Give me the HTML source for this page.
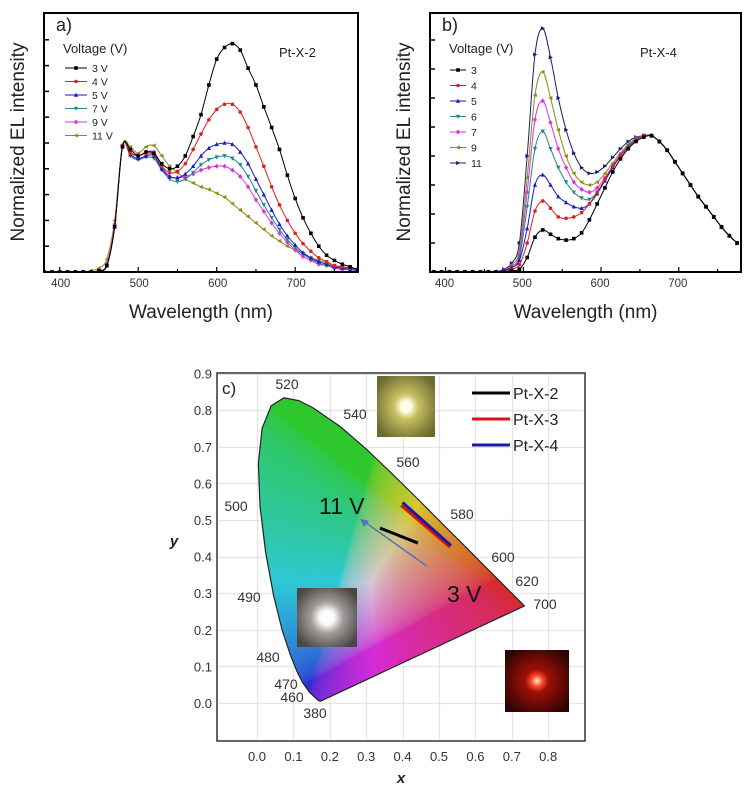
<!DOCTYPE html>
<html><head><meta charset="utf-8">
<style>
html,body{margin:0;padding:0;background:#fff;width:749px;height:791px;overflow:hidden}
#wrap{position:relative;width:749px;height:791px}
#cie{position:absolute;left:0;top:0}
#svg{position:absolute;left:0;top:0}
text{font-family:"Liberation Sans",sans-serif}
</style></head>
<body>
<div id="wrap">
<canvas id="cie" width="749" height="791"></canvas>
<svg id="svg" width="749" height="791" xmlns="http://www.w3.org/2000/svg">
<defs>
<radialGradient id="gy" cx="50%" cy="50%" r="60%"><stop offset="0" stop-color="#fff"/><stop offset="0.15" stop-color="#fffbe0"/><stop offset="0.35" stop-color="#c8c060"/><stop offset="1" stop-color="#6c6a30"/></radialGradient>
<radialGradient id="gg" cx="50%" cy="50%" r="60%"><stop offset="0" stop-color="#fff"/><stop offset="0.2" stop-color="#fafafa"/><stop offset="0.45" stop-color="#a09c9a"/><stop offset="1" stop-color="#4a4644"/></radialGradient>
<radialGradient id="gr" cx="50%" cy="50%" r="60%"><stop offset="0" stop-color="#fff0e0"/><stop offset="0.14" stop-color="#ff5030"/><stop offset="0.3" stop-color="#a01008"/><stop offset="1" stop-color="#300404"/></radialGradient>
</defs>
<g id="pa"></g>
<g id="pb"></g>
<g id="pc"></g>
</svg>
</div>
<script>
// ---- Panel a data ----
const waveA = [380,390,400,410,420,430,440,450,460,470,480,490,500,510,520,530,540,550,560,570,580,590,600,610,620,630,640,650,660,670,680,690,700,710,720,730,740,750,760,770,780];
const a3V  = [0,0,0,0,0,0,0,0.01,0.05,0.35,0.97,0.95,0.9,0.93,0.92,0.84,0.8,0.82,0.9,1.05,1.22,1.45,1.65,1.74,1.77,1.72,1.58,1.45,1.28,1.12,0.95,0.75,0.57,0.42,0.3,0.2,0.13,0.09,0.06,0.04,0.02];
const a4V  = [0,0,0,0,0,0,0,0.01,0.05,0.35,0.98,0.92,0.9,0.92,0.91,0.82,0.77,0.78,0.84,0.95,1.07,1.18,1.26,1.3,1.3,1.24,1.12,0.97,0.82,0.66,0.52,0.4,0.3,0.22,0.16,0.11,0.08,0.05,0.04,0.03,0.02];
const a5V  = [0,0,0,0,0,0,0,0.01,0.05,0.35,0.98,0.91,0.88,0.9,0.9,0.8,0.74,0.73,0.76,0.82,0.9,0.96,0.99,1.0,0.99,0.93,0.84,0.72,0.6,0.48,0.37,0.28,0.21,0.15,0.11,0.08,0.06,0.04,0.03,0.02,0.01];
const a7V  = [0,0,0,0,0,0,0,0.01,0.05,0.35,0.98,0.9,0.87,0.89,0.88,0.79,0.72,0.7,0.72,0.77,0.83,0.87,0.89,0.9,0.88,0.83,0.74,0.63,0.52,0.42,0.33,0.25,0.19,0.14,0.1,0.07,0.05,0.04,0.03,0.02,0.01];
const a9V  = [0,0,0,0,0,0,0,0.01,0.06,0.37,0.98,0.93,0.9,0.93,0.93,0.82,0.74,0.73,0.74,0.76,0.79,0.81,0.82,0.82,0.79,0.74,0.66,0.56,0.47,0.38,0.3,0.23,0.17,0.12,0.09,0.06,0.05,0.03,0.02,0.02,0.01];
const a11V = [0,0,0,0,0,0,0.01,0.03,0.1,0.4,0.98,0.97,0.92,0.97,0.98,0.9,0.82,0.77,0.72,0.69,0.66,0.64,0.61,0.58,0.53,0.48,0.43,0.38,0.33,0.28,0.24,0.2,0.17,0.14,0.11,0.09,0.07,0.05,0.04,0.03,0.02];
const labelsA = ["3 V","4 V","5 V","7 V","9 V","11 V"];
// ---- Panel b data ----
const waveB = [385,395,405,415,425,435,445,455,465,475,485,495,505,515,525,535,545,555,565,575,585,595,605,615,625,635,645,655,665,675,685,695,705,715,725,735,745,755,765,775];
const b3  = [0,0,0,0,0,0,0,0,0,0,0.01,0.02,0.1,0.24,0.29,0.26,0.23,0.22,0.23,0.27,0.36,0.47,0.58,0.69,0.78,0.85,0.9,0.93,0.94,0.9,0.84,0.76,0.68,0.6,0.52,0.45,0.38,0.31,0.25,0.2];
const b4  = [0,0,0,0,0,0,0,0,0,0,0.02,0.05,0.2,0.42,0.49,0.44,0.38,0.37,0.38,0.41,0.47,0.55,0.64,0.73,0.8,0.86,0.91,0.94,0.94,0.9,0.84,0.76,0.68,0.6,0.52,0.45,0.38,0.31,0.25,0.2];
const b5  = [0,0,0,0,0,0,0,0,0,0.01,0.03,0.08,0.3,0.6,0.67,0.6,0.52,0.48,0.45,0.44,0.47,0.54,0.63,0.72,0.8,0.86,0.91,0.94,0.94,0.9,0.84,0.76,0.68,0.6,0.52,0.45,0.38,0.31,0.25,0.2];
const b6  = [0,0,0,0,0,0,0,0,0,0.01,0.03,0.1,0.45,0.85,0.97,0.85,0.72,0.62,0.55,0.51,0.5,0.55,0.63,0.72,0.8,0.87,0.92,0.94,0.94,0.9,0.84,0.76,0.68,0.6,0.52,0.45,0.38,0.31,0.25,0.2];
const b7  = [0,0,0,0,0,0,0,0,0,0.01,0.04,0.12,0.55,1.05,1.18,1.03,0.85,0.72,0.62,0.57,0.55,0.58,0.65,0.73,0.81,0.87,0.92,0.94,0.94,0.9,0.84,0.76,0.68,0.6,0.52,0.45,0.38,0.31,0.25,0.2];
const b9  = [0,0,0,0,0,0,0,0,0,0.01,0.05,0.15,0.65,1.22,1.38,1.2,0.98,0.8,0.68,0.62,0.6,0.62,0.68,0.75,0.82,0.88,0.92,0.94,0.94,0.9,0.84,0.76,0.68,0.6,0.52,0.45,0.38,0.31,0.25,0.2];
const b11 = [0,0,0,0,0,0,0,0,0,0.02,0.06,0.2,0.8,1.5,1.68,1.48,1.2,0.98,0.82,0.72,0.68,0.69,0.73,0.79,0.85,0.9,0.93,0.94,0.94,0.9,0.84,0.76,0.68,0.6,0.52,0.45,0.38,0.31,0.25,0.2];
const labelsB = ["3","4","5","6","7","9","11"];
const xTicks = [400,500,600,700];
// ---- Panel c data ----
const locusNm = [380,420,440,450,460,470,475,480,485,490,495,500,505,510,515,520,525,530,540,550,560,570,580,590,600,610,620,640,700];
const locusX = [0.1741,0.1714,0.1644,0.1566,0.1440,0.1241,0.1096,0.0913,0.0687,0.0454,0.0235,0.0082,0.0039,0.0139,0.0389,0.0743,0.1142,0.1547,0.2296,0.3016,0.3731,0.4441,0.5125,0.5752,0.6270,0.6658,0.6915,0.7190,0.7347];
const locusY = [0.0050,0.0051,0.0109,0.0177,0.0297,0.0578,0.0868,0.1327,0.2007,0.2950,0.4127,0.5384,0.6548,0.7502,0.8120,0.8338,0.8262,0.8059,0.7543,0.6923,0.6245,0.5547,0.4866,0.4242,0.3725,0.3340,0.3083,0.2809,0.2653];
const cieTickX = [0.0,0.1,0.2,0.3,0.4,0.5,0.6,0.7,0.8];
const cieTickY = [0.0,0.1,0.2,0.3,0.4,0.5,0.6,0.7,0.8,0.9];
const px2X = [0.338,0.442], px2Y = [0.478,0.437];
const px3X = [0.396,0.53], px3Y = [0.540,0.426];
const px4X = [0.400,0.533], px4Y = [0.548,0.430];
const arrowX = [0.467,0.283], arrowY = [0.374,0.503];
const legendC = ["Pt-X-2","Pt-X-3","Pt-X-4"];

const NS="http://www.w3.org/2000/svg";
function mk(tag,attrs,parent,txt){const e=document.createElementNS(NS,tag);for(const k in attrs)e.setAttribute(k,attrs[k]);if(txt!==undefined)e.textContent=txt;parent.appendChild(e);return e;}
function smooth(pts){let d="M"+pts[0][0].toFixed(2)+","+pts[0][1].toFixed(2);for(let i=0;i<pts.length-1;i++){const p0=pts[i-1]||pts[i],p1=pts[i],p2=pts[i+1],p3=pts[i+2]||p2;const c1=[p1[0]+(p2[0]-p0[0])/6,p1[1]+(p2[1]-p0[1])/6],c2=[p2[0]-(p3[0]-p1[0])/6,p2[1]-(p3[1]-p1[1])/6];d+="C"+c1.map(v=>v.toFixed(2))+" "+c2.map(v=>v.toFixed(2))+" "+p2[0].toFixed(2)+","+p2[1].toFixed(2);}return d;}
function marker(g,type,x,y,c,s){s=s||2.2;let e;
 if(type==="sq")e=mk("rect",{x:x-s,y:y-s,width:2*s,height:2*s,fill:c},g);
 else if(type==="ci")e=mk("circle",{cx:x,cy:y,r:s,fill:c},g);
 else if(type==="tu")e=mk("polygon",{points:`${x},${y-s*1.3} ${x-s*1.2},${y+s} ${x+s*1.2},${y+s}`,fill:c},g);
 else if(type==="td")e=mk("polygon",{points:`${x},${y+s*1.3} ${x-s*1.2},${y-s} ${x+s*1.2},${y-s}`,fill:c},g);
 else if(type==="di")e=mk("polygon",{points:`${x},${y-s*1.4} ${x+s*1.2},${y} ${x},${y+s*1.4} ${x-s*1.2},${y}`,fill:c},g);
 else if(type==="tl")e=mk("polygon",{points:`${x-s*1.3},${y} ${x+s},${y-s*1.2} ${x+s},${y+s*1.2}`,fill:c},g);
 else e=mk("polygon",{points:`${x+s*1.3},${y} ${x-s},${y-s*1.2} ${x-s},${y+s*1.2}`,fill:c},g);
 return e;}

function spectrumPanel(root,opt){
 const X=w=>opt.x0+(w-380)/400*(opt.x1-opt.x0);
 const Y=v=>opt.y1-v*opt.perUnit;
 const clip="clip"+opt.id;
 const cp=mk("clipPath",{id:clip},root);mk("rect",{x:opt.x0,y:opt.y0,width:opt.x1-opt.x0,height:opt.y1-opt.y0},cp);
 const sg=mk("g",{"clip-path":`url(#${clip})`},root);
 for(let s=opt.series.length-1;s>=0;s--){
  const ser=opt.series[s];
  const g=mk("g",{},sg);
  
  
  const pts=opt.wave.map((w,i)=>[X(w),Y(ser[i])]);
  mk("path",{d:smooth(pts),fill:"none",stroke:opt.colors[s],"stroke-width":1},g);
  pts.forEach(p=>marker(g,opt.marks[s],p[0],p[1],opt.colors[s],1.8));
 }
 const box=mk("rect",{x:opt.x0,y:opt.y0,width:opt.x1-opt.x0,height:opt.y1-opt.y0,fill:"none",stroke:"#000","stroke-width":2},root);
 
 for(let v=0.2;Y(v)>opt.y0+3;v+=0.2){mk("line",{x1:opt.x0,x2:opt.x0+5,y1:Y(v),y2:Y(v),stroke:"#000","stroke-width":1.5},root);}
 for(let w=400;w<780;w+=50){mk("line",{x1:X(w),x2:X(w),y1:opt.y1,y2:opt.y1-(w%100===0?5:3),stroke:"#000","stroke-width":1.2},root);}
 xTicks.forEach(t=>{const e=mk("text",{x:X(t)+opt.tickShift,y:287,"font-size":11.5,"text-anchor":"middle",fill:"#333"},root,String(t));});
 let e=mk("text",{x:(opt.x0+opt.x1)/2,y:318,"font-size":19,"text-anchor":"middle",fill:"#222"},root,"Wavelength (nm)");
 e=mk("text",{x:0,y:0,"font-size":19,"text-anchor":"middle",fill:"#222",transform:`translate(${opt.x0-20},142) rotate(-90)`},root,"Normalized EL intensity");
 e=mk("text",{x:opt.x0+12,y:31,"font-size":18,"font-family":"Liberation Serif, serif",fill:"#222"},root,opt.tag);
 e=mk("text",{x:opt.x0+19,y:53,"font-size":13,fill:"#222"},root,"Voltage (V)");
 e=mk("text",{x:opt.nameX,y:57,"font-size":13,fill:"#222"},root,opt.name);
 opt.labels.forEach((l,i)=>{const g=mk("g",{},root);
  const yy=opt.legY0+i*opt.legDY;mk("line",{x1:opt.legX,x2:opt.legX+opt.legL,y1:yy,y2:yy,stroke:opt.colors[i],"stroke-width":1},g);
  marker(g,opt.marks[i],opt.legX+opt.legL/2,yy,opt.colors[i],1.8);mk("text",{x:opt.legX+opt.legL+5,y:yy+4,"font-size":10.5,fill:"#222"},g,l);});
}
spectrumPanel(document.getElementById("pa"),{id:"a",x0:44,x1:358,y0:13,y1:272,perUnit:129,wave:waveA,series:[a3V,a4V,a5V,a7V,a9V,a11V],labels:labelsA,
 colors:["#000","#e02020","#1a1acc","#1f8a8a","#e030e0","#8c8c10"],marks:["sq","ci","tu","td","di","tl"],tickShift:1,tag:"a)",name:"Pt-X-2",nameX:279,legX:65,legL:22,legY0:68,legDY:13.5});
spectrumPanel(document.getElementById("pb"),{id:"b",x0:430,x1:741,y0:13,y1:272,perUnit:145,wave:waveB,series:[b3,b4,b5,b6,b7,b9,b11],labels:labelsB,
 colors:["#000","#e02020","#1a1acc","#1f8a8a","#e030e0","#8c8c10","#1a1a6e"],marks:["sq","ci","tu","td","di","tl","tr"],tickShift:-1,tag:"b)",name:"Pt-X-4",nameX:640,legX:450,legL:16,legY0:70,legDY:15.5});

// ---- Panel c ----
const CX=x=>257+x*364, CY=y=>703-y*366;
const cv=document.getElementById("cie"),ctx=cv.getContext("2d");
ctx.strokeStyle="#dcdcdc";ctx.lineWidth=1;
cieTickX.forEach(v=>{ctx.beginPath();ctx.moveTo(Math.round(CX(v))+0.5,374);ctx.lineTo(Math.round(CX(v))+0.5,740);ctx.stroke();});
cieTickY.forEach(v=>{ctx.beginPath();ctx.moveTo(218,Math.round(CY(v))+0.5);ctx.lineTo(584,Math.round(CY(v))+0.5);ctx.stroke();});
const path=new Path2D();locusX.forEach((x,i)=>{i?path.lineTo(CX(x),CY(locusY[i])):path.moveTo(CX(x),CY(locusY[i]));});path.closePath();
const x0=Math.floor(CX(0)),x1=Math.ceil(CX(0.74)),y0=Math.floor(CY(0.84)),y1=Math.ceil(CY(0));
const img=ctx.getImageData(x0,y0,x1-x0,y1-y0);
const gam=c=>c<=0.0031308?12.92*c:1.055*Math.pow(c,1/2.4)-0.055;
for(let py=y0;py<y1;py++)for(let px=x0;px<x1;px++){
 if(!ctx.isPointInPath(path,px+0.5,py+0.5))continue;
 const x=(px+0.5-257)/364,y=(703-py-0.5)/366;if(y<=0.001)continue;
 const X=x/y,Y=1,Z=(1-x-y)/y;
 let r=3.2406*X-1.5372*Y-0.4986*Z,g=-0.9689*X+1.8758*Y+0.0415*Z,b=0.0557*X-0.2040*Y+1.0570*Z;
 r=Math.max(r,0);g=Math.max(g,0);b=Math.max(b,0);const m=Math.max(r,g,b)||1;
 r=gam(r/m);g=gam(g/m);b=gam(b/m);
 const mix=0.28,grey=0.7,k=0.92;
 r=(r*(1-mix)+mix*grey)*k*255;g=(g*(1-mix)+mix*grey)*k*0.93*255;b=(b*(1-mix)+mix*grey)*k*255;
 const i=((py-y0)*(x1-x0)+(px-x0))*4;img.data[i]=r;img.data[i+1]=g;img.data[i+2]=b;img.data[i+3]=255;}
ctx.putImageData(img,x0,y0);

const pc=document.getElementById("pc");
let e=mk("rect",{x:217,y:373,width:368,height:368,fill:"none",stroke:"#333","stroke-width":1.5},pc);
e=mk("path",{d:locusX.map((x,i)=>(i?"L":"M")+CX(x).toFixed(1)+","+CY(locusY[i]).toFixed(1)).join("")+"Z",fill:"none",stroke:"#222","stroke-width":1.2},pc);
const locLab=[[520,287,389],[540,355,419],[560,408,467],[580,462,519],[600,503,562],[620,527,586],[700,545,609],[500,236,511],[490,249,602],[480,268,662],[470,286,689],[460,292,702],[380,315,718]];
locLab.forEach(l=>{const t=mk("text",{x:l[1],y:l[2],"font-size":14,"text-anchor":"middle",fill:"#333"},pc,String(l[0]));});
cieTickX.forEach(v=>{const t=mk("text",{x:CX(v),y:761,"font-size":13,"text-anchor":"middle",fill:"#333"},pc,v.toFixed(1));});
cieTickY.forEach(v=>{const t=mk("text",{x:212,y:CY(v)+5,"font-size":13,"text-anchor":"end",fill:"#333"},pc,v.toFixed(1));});
e=mk("text",{x:401,y:783,"font-size":15,"font-weight":"bold","font-style":"italic","text-anchor":"middle",fill:"#222"},pc,"x");
e=mk("text",{x:174,y:546,"font-size":15,"font-weight":"bold","font-style":"italic","text-anchor":"middle",fill:"#222"},pc,"y");
e=mk("text",{x:222,y:394,"font-size":17,"font-family":"Liberation Serif, serif",fill:"#222"},pc,"c)");
e=mk("rect",{x:377,y:376,width:58,height:61,fill:"url(#gy)"},pc);
e=mk("rect",{x:297,y:588,width:60,height:59,fill:"url(#gg)"},pc);
e=mk("rect",{x:505,y:650,width:64,height:62,fill:"url(#gr)"},pc);
[[px2X,px2Y,"#000"],[px3X,px3Y,"#e01010"],[px4X,px4Y,"#1a1aa0"]].forEach((s,i)=>{const l=mk("line",{x1:CX(s[0][0]),y1:CY(s[1][0]),x2:CX(s[0][1]),y2:CY(s[1][1]),stroke:s[2],"stroke-width":3},pc);});
e=mk("line",{x1:CX(arrowX[0]),y1:CY(arrowY[0]),x2:CX(arrowX[1])+6,y2:CY(arrowY[1])+4,stroke:"#4a7ab0","stroke-width":1.5},pc);
const ax=CX(arrowX[1]),ay=CY(arrowY[1]);
e=mk("polygon",{points:`${ax},${ay} ${ax+9},${ay+2} ${ax+4},${ay+8}`,fill:"#4a7ab0"},pc);
e=mk("text",{x:319,y:514,"font-size":23,fill:"#111"},pc,"11 V");
e=mk("text",{x:447,y:602,"font-size":23,fill:"#111"},pc,"3 V");
legendC.forEach((l,i)=>{const g=mk("g",{},pc);
 const yy=393+i*26;mk("line",{x1:472,x2:510,y1:yy,y2:yy,stroke:["#000","#e01010","#1a1aa0"][i],"stroke-width":3},g);
 mk("text",{x:513,y:yy+6,"font-size":16,fill:"#222"},g,l);});
</script>
</body></html>
